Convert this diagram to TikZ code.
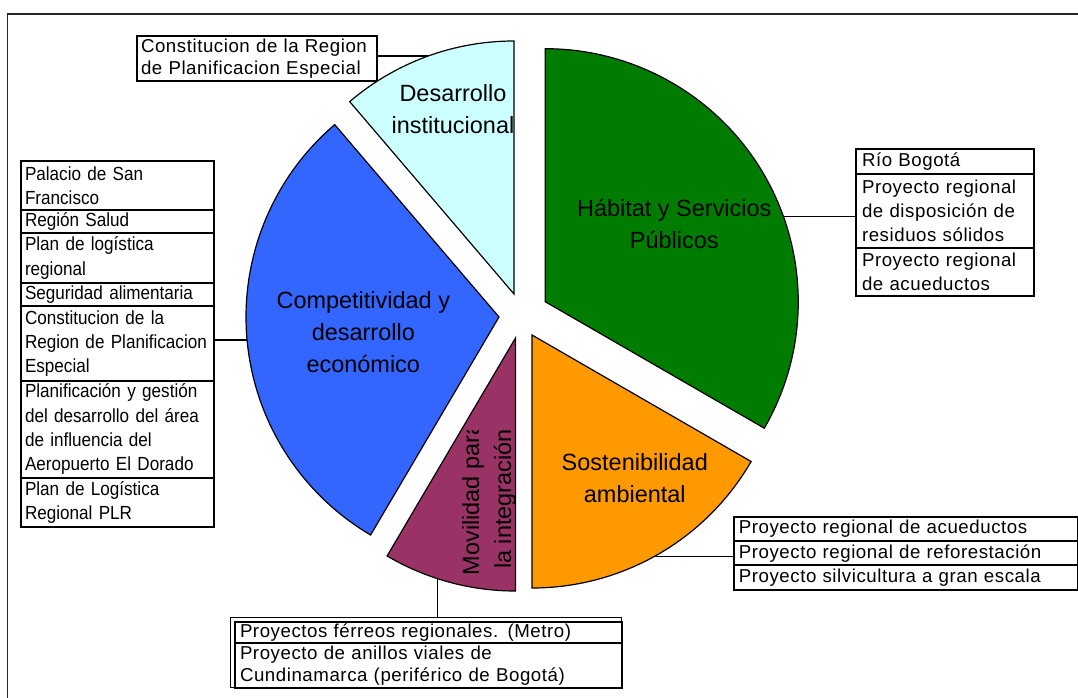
\documentclass[tikz,border=0pt]{standalone}
\usepackage{fontspec}
\setmainfont{Liberation Sans}
\newfontfamily\boxfont[LetterSpace=3]{Liberation Sans}
\newfontfamily\condfont[FakeStretch=0.9]{Liberation Sans}
\definecolor{sliceCyan}{RGB}{204,255,255}
\definecolor{sliceGreen}{RGB}{0,125,0}
\definecolor{sliceBlue}{RGB}{51,102,255}
\definecolor{slicePurple}{RGB}{153,51,102}
\definecolor{sliceOrange}{RGB}{255,153,0}
\begin{document}
\begin{tikzpicture}[x=0.75pt,y=-0.75pt,
  slice/.style={draw=black, line width=0.9pt, line join=miter},
  slicelabel/.style={align=center, font=\fontsize{17.6}{24}\selectfont, inner sep=0pt},
  conn/.style={draw=black, line width=0.9pt},
  rowbox/.style={draw=black, line width=1.5pt, anchor=north west, inner ysep=0pt, align=left},
  leftrow/.style={rowbox, text width=138.5pt, inner xsep=3pt, font=\condfont\fontsize{14.25}{18.3}\selectfont},
  toprow/.style={rowbox, text width=174pt, inner xsep=3pt, font=\boxfont\fontsize{14}{16.7}\selectfont},
  greenrow/.style={rowbox, text width=124.5pt, inner xsep=4.5pt, font=\boxfont\fontsize{14}{18.2}\selectfont},
  orangerow/.style={rowbox, text width=250.3pt, inner xsep=3.75pt, minimum height=18.2pt, font=\boxfont\fontsize{14}{17}\selectfont},
  purplerow/.style={rowbox, text width=282.4pt, inner xsep=3.75pt, font=\boxfont\fontsize{14}{16}\selectfont}
]
\useasboundingbox (0,0) rectangle (1078,698);
% frame
\draw[line width=1.1pt, black!85] (7.5,698) -- (7.5,13.8) -- (1078,13.8);

% boxes
\node[toprow, minimum height=34pt] (topbox) at (136,34.7) {Constitucion de la Region\\de Planificacion Especial};

\node[leftrow, minimum height=36.75pt] (L1) at (20,160) {Palacio de San\\Francisco};
\node[leftrow, minimum height=17.5pt] (L2) at (20,209) {Región Salud};
\node[leftrow, minimum height=37.05pt] (L3) at (20,232.3) {Plan de logística\\regional};
\node[leftrow, minimum height=17.5pt] (L4) at (20,281.7) {Seguridad alimentaria};
\node[leftrow, minimum height=56.25pt] (L5) at (20,305) {Constitucion de la\\Region de Planificacion\\Especial};
\node[leftrow, minimum height=72.5pt] (L6) at (20,380) {Planificación y gestión\\del desarrollo del área\\de influencia del\\Aeropuerto El Dorado};
\node[leftrow, minimum height=37pt] (L7) at (20,476.7) {Plan de Logística\\Regional PLR};

\node[greenrow, minimum height=18.3pt] (G1) at (855,148.3) {Río Bogotá};
\node[greenrow, minimum height=55.95pt] (G2) at (855,172.7) {Proyecto regional\\de disposición de\\residuos sólidos};
\node[greenrow, minimum height=35.55pt] (G3) at (855,247.3) {Proyecto regional\\de acueductos};

\node[orangerow] (O1) at (732.8,515.7) {Proyecto regional de acueductos};
\node[orangerow] (O2) at (732.8,540) {Proyecto regional de reforestación};
\node[orangerow] (O3) at (732.8,564.3) {Proyecto silvicultura a gran escala};

\node[draw=black, line width=0.6pt, anchor=north west, minimum width=293.25pt, minimum height=52.95pt, inner sep=0pt] (Pout) at (230,616.7) {};
\node[purplerow, minimum height=16.2pt] (P1) at (234,620.7) {Proyectos férreos regionales. (Metro)};
\node[purplerow, minimum height=33.5pt] (P2) at (234,642.3) {Proyecto de anillos viales de\\Cundinamarca (periférico de Bogotá)};

% connectors
\coordinate (cDI) at (437,56);
\coordinate (cHab) at (780,216.7);
\coordinate (cComp) at (252,340);
\coordinate (cMov) at (437.3,575);
\coordinate (cSos) at (646.7,556.7);
\draw[conn] (cDI -| topbox.east) -- (cDI);
\draw[conn] (cHab) -- (cHab -| G2.west);
\draw[conn] (cComp) -- (cComp -| L5.east);
\draw[conn] (cMov) -- (cMov |- Pout.north);
\draw[conn] (cSos) -- (cSos -| O2.west);

% slices
\def\R{189.75pt}
\coordinate (A1) at (514,294);
\coordinate (A2) at (545.2,301.7);
\coordinate (A3) at (532,335);
\coordinate (A4) at (515.5,338);
\coordinate (A5) at (499,317);
\draw[slice, fill=sliceCyan] (A1) -- ++(90:\R) arc[start angle=90, end angle=130.5, radius=\R] -- cycle;
\draw[slice, fill=sliceGreen] (A2) -- ++(-30:\R) arc[start angle=-30, end angle=90, radius=\R] -- cycle;
\draw[slice, fill=sliceOrange] (A3) -- ++(270:\R) arc[start angle=270, end angle=330, radius=\R] -- cycle;
\draw[slice, fill=slicePurple] (A4) -- ++(239.5:\R) arc[start angle=239.5, end angle=270, radius=\R] -- cycle;
\draw[slice, fill=sliceBlue] (A5) -- ++(130.5:\R) arc[start angle=130.5, end angle=239.5, radius=\R] -- cycle;

% slice labels
\node[slicelabel] (tDI) at (453,109) {Desarrollo\\institucional};
\node[slicelabel] (tHab) at (674.3,224) {Hábitat y Servicios\\Públicos};
\node[slicelabel] (tComp) at (363.3,332) {Competitividad y\\desarrollo\\económico};
\node[slicelabel] (tSos) at (634.8,478) {Sostenibilidad\\ambiental};
\begin{scope}
\clip (440,431) rectangle (530,600);
\node[slicelabel, rotate=90] (tMov) at (489,499) {Movilidad para\\la integración};
\end{scope}
\end{tikzpicture}
\end{document}
